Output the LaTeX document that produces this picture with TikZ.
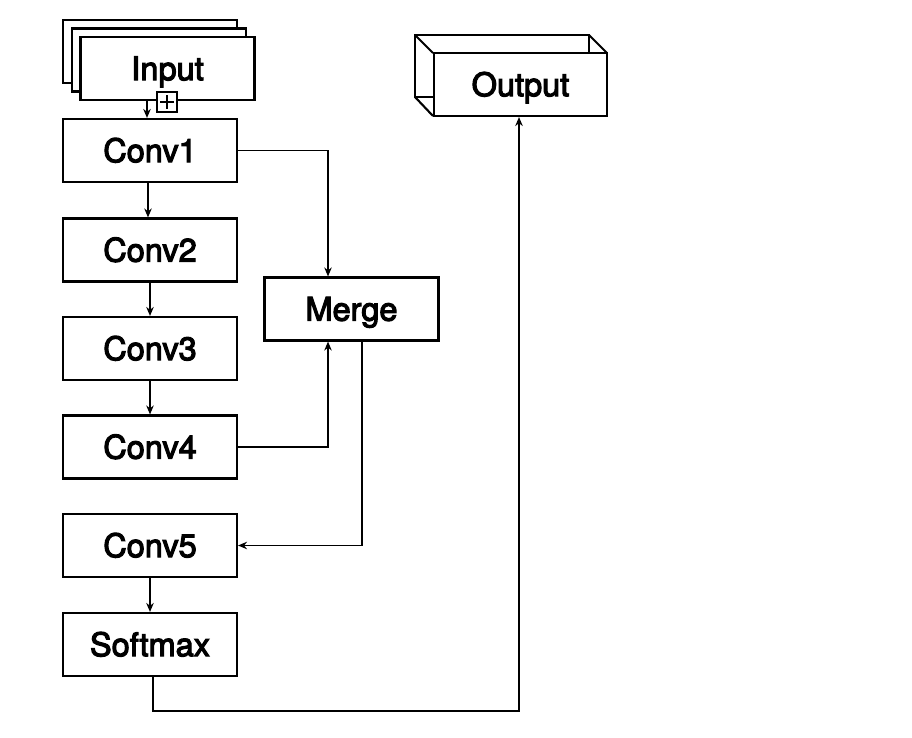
\documentclass[tikz,border=0pt]{standalone}
\usepackage{fontspec}
\setmainfont{TeX Gyre Heros}[BoldFont={TeX Gyre Heros},BoldFeatures={FakeBold=3.5}]
\usetikzlibrary{arrows.meta,calc}
\begin{document}
\begin{tikzpicture}[x=1pt,y=1pt,
  blk/.style={draw,line width=2.1pt,fill=white,minimum width=174pt,minimum height=63pt,inner sep=0pt,
    font=\fontsize{32.5}{38}\selectfont\bfseries,text height=23.3pt,text depth=0pt},
  conn/.style={line width=1.7pt},
  arr/.style={conn,-{Stealth[length=9pt,width=7.5pt]}},
  edge3d/.style={line width=2.1pt,line join=miter}]
\useasboundingbox (0,0) rectangle (912,-738);
% Input stack
\node[blk,minimum width=174pt] (inb2) at (150,-51.5) {};
\node[blk] (inb1) at (159,-60) {};
\node[blk] (input) at (167.5,-68.5) {Input};
\node[draw,line width=1.7pt,fill=white,minimum size=20pt,inner sep=0pt] (plus) at (167,-102) {};
\draw[line width=1.6pt] ($(plus.center)+(-7,0)$) -- ($(plus.center)+(7,0)$);
\draw[line width=1.6pt] ($(plus.center)+(0,-7)$) -- ($(plus.center)+(0,7)$);
% Column
\node[blk] (conv1) at (150,-150.5) {Conv1};
\node[blk] (conv2) at (150,-250) {Conv2};
\node[blk] (conv3) at (150,-348.5) {Conv3};
\node[blk] (conv4) at (150,-447) {Conv4};
\node[blk] (conv5) at (150,-545.5) {Conv5};
\node[blk] (softmax) at (150,-644.5) {Softmax};
\node[blk] (merge) at (351.5,-309) {Merge};
% Output 3D box
\coordinate (ob1) at (415,-35);
\coordinate (ob2) at (589,-35);
\coordinate (ob3) at (415,-97);
\draw[edge3d] (433,-97) -- (ob3) -- (ob1) -- (ob2) -- (589,-53);
\draw[edge3d] (ob1) -- (433,-53);
\draw[edge3d] (ob2) -- (607,-53);
\draw[edge3d] (ob3) -- (433,-116);
\node[blk,minimum width=173pt] (output) at (520.5,-84.5) {Output};
% Connectors
\coordinate (a0) at ($(conv1.north)+(-3,0)$);
\draw[arr] (input.south -| a0) -- (a0);
\coordinate (a1) at ($(conv1.south)+(-2,0)$);
\draw[arr] (a1) -- (conv2.north -| a1);
\draw[arr] (conv2) -- (conv3);
\draw[arr] (conv3) -- (conv4);
\draw[arr] (conv5) -- (softmax);
\coordinate (m1) at ($(merge.north)+(-23.5,0)$);
\draw[arr] (conv1.east) -| (m1);
\coordinate (m2) at ($(merge.south)+(-23.5,0)$);
\draw[arr] (conv4.east) -| (m2);
\coordinate (m3) at ($(merge.south)+(10.5,0)$);
\draw[arr] (m3) |- (conv5.east);
\coordinate (s1) at ($(softmax.south)+(3,0)$);
\coordinate (s2) at ($(s1)+(0,-34)$);
\coordinate (o1) at ($(output.south)+(-1.5,0)$);
\draw[arr] (s1) -- (s2) -| (o1);
\end{tikzpicture}
\end{document}
